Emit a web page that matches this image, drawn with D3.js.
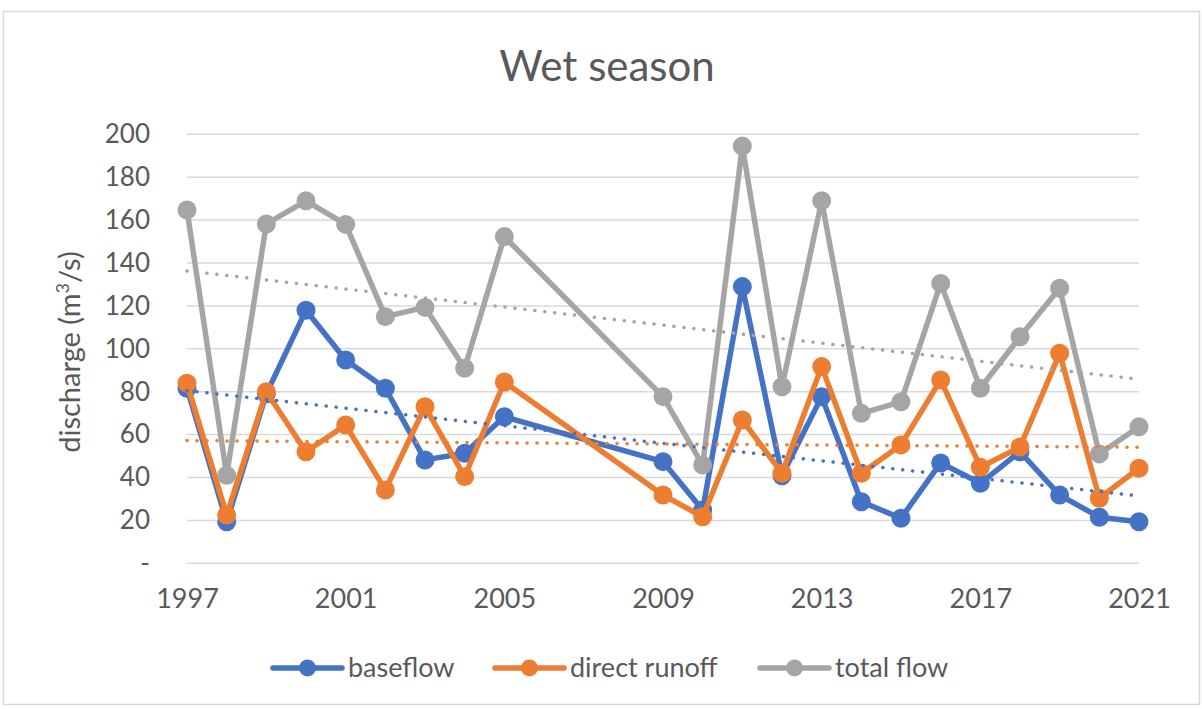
<!DOCTYPE html>
<html>
<head>
<meta charset="utf-8">
<script src="https://cdn.jsdelivr.net/npm/d3@7"></script>
<style>
  body { margin: 0; background: #fff; }
  svg { display: block; font-family: Lato, "Open Sans", sans-serif; }
</style>
</head>
<body>
<div id="chart"></div>
<script>
const W = 1202, H = 709;
const years = [1997, 1998, 1999, 2000, 2001, 2002, 2003, 2004, 2005, 2009, 2010, 2011, 2012, 2013, 2014, 2015, 2016, 2017, 2018, 2019, 2020, 2021];
const baseflow = [81.6, 19.4, 79, 118, 94.8, 81.6, 48.2, 51.3, 68.3, 47.4, 24.8, 129, 40.8, 77.7, 28.7, 21, 46.8, 37.3, 52, 31.8, 21.5, 19.4];
const directRunoff = [83.9, 22.5, 80, 52, 64.5, 34.2, 73, 40.4, 84.5, 31.8, 21.7, 66.8, 42, 91.7, 42, 55.2, 85.5, 44.8, 54.2, 97.9, 30.3, 44.3];
const totalFlow = [164.7, 41, 158.2, 169, 158, 115, 119.3, 90.9, 152.3, 77.7, 45.8, 194.5, 82.3, 169, 69.9, 75.3, 130.5, 81.6, 105.6, 128.2, 51, 63.7];
// trendline end values read at 1997 and 2021
const trendYears = [1997, 2021];
const baseTrend = [80.5, 31.4];
const directTrend = [57.2, 54.1];
const totalTrend = [136.3, 85.8];
const yTicks = [0, 20, 40, 60, 80, 100, 120, 140, 160, 180, 200];
const xTicks = [1997, 2001, 2005, 2009, 2013, 2017, 2021];

const series = [
  { name: "baseflow", values: baseflow, trend: baseTrend, color: "#4472C4" },
  { name: "direct runoff", values: directRunoff, trend: directTrend, color: "#ED7D31" },
  { name: "total flow", values: totalFlow, trend: totalTrend, color: "#A5A5A5" },
];

const svg = d3.select("#chart").append("svg").attr("width", W).attr("height", H);

svg.append("rect")
  .attr("x", 3.5).attr("y", 11.5).attr("width", W - 6).attr("height", H - 16)
  .attr("fill", "#fff").attr("stroke", "#D9D9D9").attr("stroke-width", 1.5);

const x = d3.scaleLinear().domain([1997, 2021]).range([187, 1139]);
const y = d3.scaleLinear().domain([0, 200]).range([563.3, 134.3]);

svg.append("text")
  .attr("x", 607).attr("y", 81)
  .attr("text-anchor", "middle")
  .attr("font-size", 42)
  .attr("fill", "#595959")
  .text("Wet season");

// gridlines
svg.append("g")
  .selectAll("line")
  .data(yTicks)
  .join("line")
  .attr("x1", x.range()[0]).attr("x2", x.range()[1])
  .attr("y1", (d) => y(d)).attr("y2", (d) => y(d))
  .attr("stroke", "#D9D9D9").attr("stroke-width", 1.5);

const yAxis = svg.append("g")
  .attr("transform", "translate(162,0)")
  .call(d3.axisLeft(y).tickValues(yTicks).tickSize(0).tickPadding(12).tickFormat((d) => (d === 0 ? "-" : d)));
yAxis.select(".domain").remove();
yAxis.selectAll("text").attr("font-size", 26).attr("fill", "#595959").attr("font-family", "Lato");

const xAxis = svg.append("g")
  .attr("transform", "translate(0,580)")
  .call(d3.axisBottom(x).tickValues(xTicks).tickSize(0).tickPadding(9).tickFormat(d3.format("d")));
xAxis.select(".domain").remove();
xAxis.selectAll("text").attr("font-size", 27).attr("fill", "#595959").attr("font-family", "Lato");

svg.append("text")
  .attr("transform", "translate(80,352) rotate(-90)")
  .attr("text-anchor", "middle")
  .attr("font-size", 29)
  .attr("fill", "#595959")
  .html('discharge (m<tspan font-size="18" dy="-11">3</tspan><tspan dy="11">/s)</tspan>');

const line = d3.line().x((d) => x(d[0])).y((d) => y(d[1]));

series.forEach((s) => {
  const pts = years.map((yr, i) => [yr, s.values[i]]);
  const g = svg.append("g");
  g.append("path")
    .attr("d", line(pts))
    .attr("fill", "none")
    .attr("stroke", s.color)
    .attr("stroke-width", 5.5)
    .attr("stroke-linejoin", "round");
  g.selectAll("circle")
    .data(pts)
    .join("circle")
    .attr("cx", (d) => x(d[0]))
    .attr("cy", (d) => y(d[1]))
    .attr("r", 9.5)
    .attr("fill", s.color);
});

series.forEach((s) => {
  svg.append("path")
    .attr("d", line(trendYears.map((yr, i) => [yr, s.trend[i]])))
    .attr("fill", "none")
    .attr("stroke", s.color)
    .attr("stroke-width", 3.5)
    .attr("stroke-linecap", "round")
    .attr("stroke-dasharray", "0.1 9.9");
});

// legend
const legendX = [273, 495, 760];
const legend = svg.append("g").attr("transform", "translate(0,668)");
series.forEach((s, i) => {
  const g = legend.append("g").attr("transform", `translate(${legendX[i]},0)`);
  g.append("line").attr("x1", 0).attr("x2", 69)
    .attr("stroke", s.color).attr("stroke-width", 5.5).attr("stroke-linecap", "round");
  g.append("circle").attr("cx", 34.5).attr("r", 8.5).attr("fill", s.color);
  g.append("text").attr("x", 75).attr("y", 9)
    .attr("font-size", 27).attr("fill", "#595959")
    .text(s.name);
});
</script>
</body>
</html>
